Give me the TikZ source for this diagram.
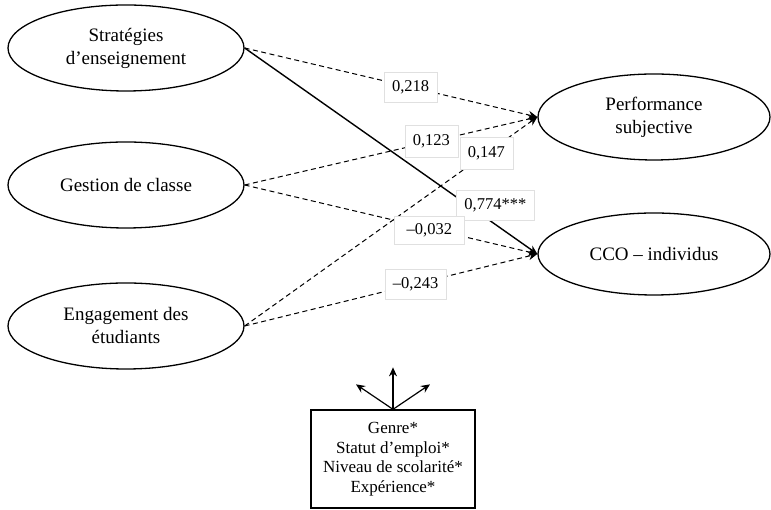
\documentclass[tikz,border=0pt]{standalone}
\usepackage{fontspec}
\setmainfont{Liberation Serif}
\usetikzlibrary{positioning,shapes.geometric,arrows.meta}

\begin{document}
\begin{tikzpicture}[x=1pt,y=1pt]
\tikzset{latent/.style={draw,ellipse,line width=1.3pt,minimum width=236pt,minimum height=86pt,align=center,font=\fontsize{19}{23}\selectfont},
         coef/.style={solid,fill=white,draw=black!12,line width=0.5pt,inner xsep=8pt,minimum height=30pt,font=\fontsize{16.5}{18}\selectfont},
         path/.style={line width=1pt,dash pattern=on 5pt off 3.5pt,-{Stealth[length=9pt,width=8pt]}},
         effect/.style={line width=1.4pt,-{Stealth[length=9pt,width=8pt]}},
         covbox/.style={draw,line width=1.3pt,minimum width=164pt,minimum height=98pt,align=center,font=\fontsize{17}{19.5}\selectfont}};
   \useasboundingbox (0,0) rectangle (771,510);

   \node[latent] at (126,462) (strat) {Stratégies\\d’enseignement};
   \node[latent] at (126,325) (gest) {Gestion de classe};
   \node[latent] at (126,184) (eng) {Engagement des\\étudiants};
   \node[latent,minimum width=232pt] at (654,393) (perf) {Performance\\subjective};
   \node[latent,minimum width=232pt,minimum height=82pt] at (654,256) (cco) {CCO – individus};

   \draw[path] (strat.east) -- (perf.west) node[coef,pos=0.567] (c1) {0,218};
   \draw[effect] (strat.east) -- (cco.west) node[coef,pos=0.843,yshift=16pt,xshift=4pt] (c2) {0,774***};
   \draw[path] (gest.east) -- (perf.west) node[coef,pos=0.638,minimum height=32pt] (c3) {0,123};
   \draw[path] (eng.east) -- (perf.west) node[coef,pos=0.826,minimum height=32pt] (c4) {0,147};
   \draw[path] (gest.east) -- (cco.west) node[coef,pos=0.631,yshift=-2pt,inner xsep=12pt,minimum height=28pt] (c5) {–0,032};
   \draw[path] (eng.east) -- (cco.west) node[coef,pos=0.584] (c6) {–0,243};

   % variables de controle
   \node[covbox] at (393,51) (cov) {Genre*\\Statut d’emploi*\\Niveau de scolarité*\\Expérience*};
   \coordinate[above=42pt of cov.north] (cu);
   \coordinate[above left=25pt and 37pt of cov.north] (cl);
   \coordinate[above right=25pt and 37pt of cov.north] (cr);
   \draw[effect,line width=1.2pt] (cov.north) -- (cu);
   \draw[effect,line width=1.2pt] (cov.north) -- (cl);
   \draw[effect,line width=1.2pt] (cov.north) -- (cr);

\end{tikzpicture}
\end{document}
